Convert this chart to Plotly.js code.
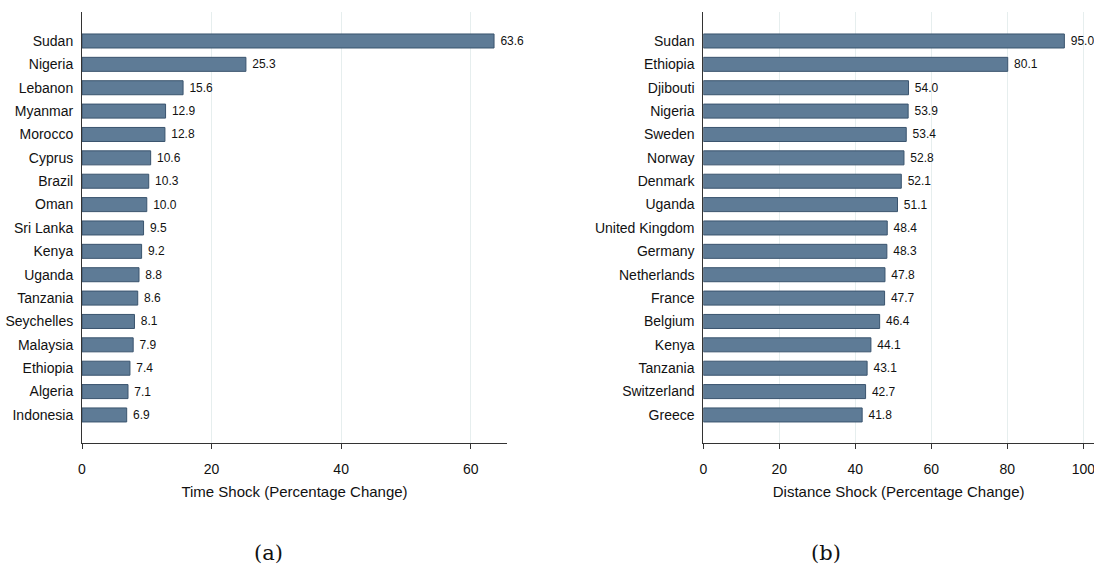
<!DOCTYPE html>
<html>
<head>
<meta charset="utf-8">
<script src="https://cdn.plot.ly/plotly-3.0.1.min.js"></script>
<style>
  html, body { margin: 0; padding: 0; background: #fff; }
  #chart { width: 1094px; height: 569px; }
</style>
</head>
<body>
<div id="chart"></div>
<script>
// Panel (a): time shock by country
const timeCountries = ["Sudan", "Nigeria", "Lebanon", "Myanmar", "Morocco", "Cyprus", "Brazil", "Oman",
  "Sri Lanka", "Kenya", "Uganda", "Tanzania", "Seychelles", "Malaysia", "Ethiopia", "Algeria", "Indonesia"];
const timeValues = [63.6, 25.3, 15.6, 12.9, 12.8, 10.6, 10.3, 10.0, 9.5, 9.2, 8.8, 8.6, 8.1, 7.9, 7.4, 7.1, 6.9];

// Panel (b): distance shock by country
const distCountries = ["Sudan", "Ethiopia", "Djibouti", "Nigeria", "Sweden", "Norway", "Denmark", "Uganda",
  "United Kingdom", "Germany", "Netherlands", "France", "Belgium", "Kenya", "Tanzania", "Switzerland", "Greece"];
const distValues = [95.0, 80.1, 54.0, 53.9, 53.4, 52.8, 52.1, 51.1, 48.4, 48.3, 47.8, 47.7, 46.4, 44.1, 43.1, 42.7, 41.8];

const xTitleA = "Time Shock (Percentage Change)";
const xTitleB = "Distance Shock (Percentage Change)";
const tickValsA = [0, 20, 40, 60];
const tickValsB = [0, 20, 40, 60, 80, 100];

const FONT = "'Liberation Sans', Arial, sans-serif";
const BAR_FILL = "rgb(94,123,150)";
const BAR_LINE = "rgb(58,84,110)";

function barTrace(cats, vals, xa, ya) {
  return {
    type: "bar",
    orientation: "h",
    y: cats,
    x: vals,
    xaxis: xa,
    yaxis: ya,
    width: 0.6,
    marker: { color: BAR_FILL, line: { color: BAR_LINE, width: 1 } },
    // non-breaking space keeps a small gap between bar end and label
    text: vals.map(v => "\u00a0" + v.toFixed(1)),
    textposition: "outside",
    textfont: { family: FONT, size: 12, color: "#111" },
    cliponaxis: false,
    hoverinfo: "x+y"
  };
}

function xAxis(domain, range, ticks, title) {
  return {
    domain: domain,
    range: range,
    tickvals: ticks,
    ticks: "outside",
    ticklen: 5,
    tickcolor: "#333",
    ticklabelstandoff: 8,
    ticklabeloverflow: "allow",
    showline: true,
    linecolor: "#333",
    linewidth: 1,
    showgrid: true,
    gridcolor: "#e6eeee",
    gridwidth: 1,
    zeroline: false,
    tickfont: { family: FONT, size: 14, color: "#111" },
    title: { text: title, font: { family: FONT, size: 15, color: "#111" }, standoff: 10 },
    fixedrange: true
  };
}

function yAxis(anchor, cats) {
  return {
    anchor: anchor,
    type: "category",
    categoryorder: "array",
    categoryarray: cats,
    range: [cats.length - 1 + 1.2, -1.24],
    showline: true,
    linecolor: "#333",
    linewidth: 1,
    ticks: "",
    ticklabelstandoff: 5,
    showgrid: false,
    zeroline: false,
    tickfont: { family: FONT, size: 14, color: "#111" },
    fixedrange: true
  };
}

const W = 1094;
const data = [
  barTrace(timeCountries, timeValues, "x", "y"),
  barTrace(distCountries, distValues, "x2", "y2")
];

const layout = {
  width: 1094,
  height: 569,
  margin: { l: 0, r: 0, t: 12, b: 126 },
  paper_bgcolor: "#fff",
  plot_bgcolor: "#fff",
  showlegend: false,
  bargap: 0.4,
  xaxis: xAxis([82 / W, 507 / W], [0, 65.6], tickValsA, xTitleA),
  yaxis: yAxis("x", timeCountries),
  xaxis2: xAxis([703.3 / W, 1], [0, 102.8], tickValsB, xTitleB),
  yaxis2: yAxis("x2", distCountries),
  annotations: [
    { text: "(a)", xref: "paper", yref: "paper", x: 252 / W, y: -0.255, yanchor: "middle",
      showarrow: false, font: { family: "'DejaVu Serif', 'Liberation Serif', serif", size: 21, color: "#111" } },
    { text: "(b)", xref: "paper", yref: "paper", x: 843 / W, y: -0.255, yanchor: "middle",
      showarrow: false, font: { family: "'DejaVu Serif', 'Liberation Serif', serif", size: 21, color: "#111" } }
  ]
};

Plotly.newPlot("chart", data, layout, { displayModeBar: false, staticPlot: true });
</script>
</body>
</html>
